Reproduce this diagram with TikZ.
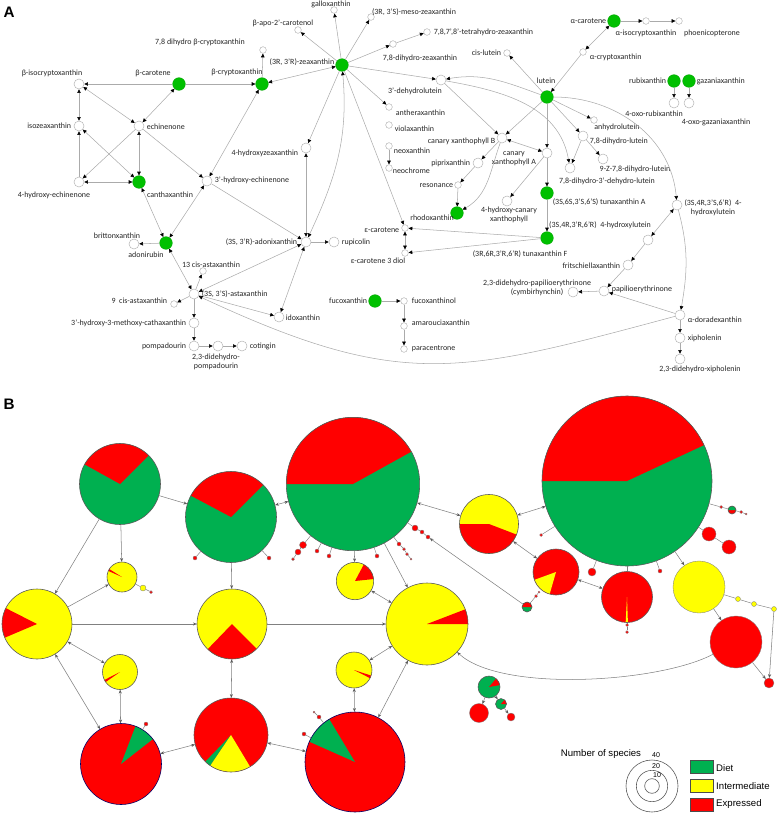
\documentclass[tikz,border=0pt]{standalone}
\usepackage{fontspec}
\setmainfont{Carlito}
\newfontfamily\legfont{Liberation Sans}
\usetikzlibrary{arrows.meta}
\definecolor{dietgreen}{HTML}{00C000}
\definecolor{pgreen}{HTML}{00B050}
\definecolor{pyellow}{HTML}{FFFF00}
\definecolor{pred}{HTML}{FF0000}
\definecolor{edgegray}{HTML}{ABABAB}
\definecolor{flowgray}{HTML}{808080}
\newcommand{\molfont}{\fontsize{6.8}{7.4}\selectfont}
\newcommand{\piechart}[6][gray!70!black]{%
  \pgfmathsetlengthmacro{\pierad}{#4*0.03cm}%
  \node[pie, fill=#5, minimum size=2*\pierad] (#2) at (#3) {};
  \foreach \s/\e/\col in {#6}{%
    \fill[fill=\col] (#2.center) -- ++(\s:\pierad) arc[start angle=\s, end angle=\e, radius=\pierad] -- cycle;}
  \draw[draw=#1, line width=0.5pt] (#2.center) circle[radius=\pierad];}

\begin{document}
\begin{tikzpicture}[x=0.03cm, y=-0.03cm,
  mol/.style={circle, draw=gray!60, fill=white, line width=0.4pt, inner sep=0pt, minimum size=0.3cm},
  molS/.style={mol, minimum size=0.2cm},
  diet/.style={circle, fill=dietgreen, draw=dietgreen!85!black, line width=0.3pt, inner sep=0pt, minimum size=0.38cm},
  lbl/.style={font=\molfont, inner sep=0.5pt, text=black!85, align=center},
  rx/.style={draw=edgegray, line width=0.45pt, -{Triangle[length=3.2pt,width=3pt,color=black]}},
  rxx/.style={rx, {Triangle[length=3.2pt,width=3pt,color=black]}-{Triangle[length=3.2pt,width=3pt,color=black]}},
  pie/.style={circle, inner sep=0pt},
  pdot/.style={circle, draw=flowgray, line width=0.3pt, fill=pred, inner sep=0pt},
  flow/.style={draw=flowgray, line width=0.45pt, -{Stealth[length=3.2pt,width=2.6pt,color=flowgray!70!black]}},
  flows/.style={flow, {Stealth[length=3.2pt,width=2.6pt,color=flowgray!70!black]}-{Stealth[length=3.2pt,width=2.6pt,color=flowgray!70!black]}},
  twig/.style={draw=flowgray, line width=0.4pt},
  legbox/.style={draw=black!70, line width=0.6pt, minimum width=0.69cm, minimum height=0.39cm, inner sep=0pt},
  leg/.style={font=\legfont\fontsize{8.2}{9}\selectfont, inner sep=0pt, anchor=west},
  panel/.style={font=\legfont\bfseries\fontsize{13}{14}\selectfont, inner sep=0pt}]
\useasboundingbox (0,0) rectangle (778,813);

\node[panel] (tagA) at (9,12) {A};
\node[panel] (tagB) at (9,404) {B};

\node[mol] (bisocry) at (79,84) {};
\node[diet] (bcar) at (179,84) {};
\node[diet] (bcry) at (262,84) {};
\node[mol] (isozea) at (79,126) {};
\node[mol] (echin) at (139,126) {};
\node[mol] (hech4) at (79,182) {};
\node[diet] (canth) at (139,182) {};
\node[mol] (hech3) at (207,181) {};
\node[diet] (adonir) at (166,243) {};
\node[mol] (britton) at (134,244) {};
\node[mol] (asta) at (194,294) {};
\node[molS] (cis13) at (203,271) {};
\node[molS] (cis9) at (174,304) {};
\node[mol] (methoxy) at (194,323) {};
\node[mol] (pompa) at (194,346) {};
\node[mol] (dpompa) at (218,346) {};
\node[mol] (coting) at (242,346) {};
\node[diet] (zea) at (342,65) {};
\node[molS] (gallo) at (334,10) {};
\node[molS] (meso) at (371,17) {};
\node[molS] (apo) at (298,30) {};
\node[molS] (dhbcry) at (263,50) {};
\node[molS] (thzea) at (427,32) {};
\node[molS] (dhzea) at (393,44) {};
\node[mol] (dhlut) at (441,80) {};
\node[molS] (cislut) at (507,53) {};
\node[molS] (anthera) at (389,107) {};
\node[molS] (viola) at (389,125) {};
\node[molS] (neoxa) at (389,146) {};
\node[molS] (neochr) at (389,168) {};
\node[mol] (hzea) at (306,148) {};
\node[mol] (adonix) at (306,242) {};
\node[mol] (rupi) at (334,242) {};
\node[mol] (idox) at (279,317) {};
\node[molS] (ecar) at (405,228) {};
\node[molS] (ecard) at (405,253) {};
\node[diet] (rhodo) at (457,213) {};
\node[molS] (reson) at (458,185) {};
\node[mol] (piprix) at (478,163) {};
\node[mol] (canB) at (502,138) {};
\node[mol] (canA) at (547,153) {};
\node[mol] (hcan) at (507,201) {};
\node[diet] (fucox) at (375,301) {};
\node[molS] (fucol) at (404,301) {};
\node[molS] (amaro) at (404,326) {};
\node[molS] (parac) at (404,349) {};
\node[diet] (acar) at (614,21) {};
\node[molS] (aiso) at (646,21) {};
\node[molS] (phoen) at (679,21) {};
\node[molS] (acry) at (583,52) {};
\node[diet] (lut) at (547,97) {};
\node[diet] (rubix) at (674,81) {};
\node[diet] (gaza) at (689,81) {};
\node[mol] (orubix) at (674,103) {};
\node[mol] (ogaza) at (689,103) {};
\node[molS] (anhyd) at (594,120) {};
\node[mol] (dhl) at (583,136) {};
\node[mol] (zdhl) at (603,159) {};
\node[mol] (dhdhl) at (570,168) {};
\node[diet] (tunaA) at (547,193) {};
\node[diet] (tunaF) at (547,238) {};
\node[mol] (hlutS) at (677,205) {};
\node[mol] (hlutR) at (648,240) {};
\node[mol] (fritsch) at (628,265) {};
\node[mol] (papil) at (604,291) {};
\node[mol] (cymbir) at (573,292) {};
\node[mol] (adora) at (680,315) {};
\node[mol] (xipho) at (680,338) {};
\node[mol] (dxipho) at (680,359) {};

\node[lbl] (bisocry-t) at (52,73) {β-isocryptoxanthin};
\node[lbl] (bcar-t) at (153,73) {β-carotene};
\node[lbl] (bcry-t) at (237,72) {β-cryptoxanthin};
\node[lbl, anchor=east] (isozea-t) at (72,126) {isozeaxanthin};
\node[lbl, anchor=west] (echin-t) at (146,127) {echinenone};
\node[lbl] (hech4-t) at (54,195) {4-hydroxy-echinenone};
\node[lbl] (canth-t) at (170,195) {canthaxanthin};
\node[lbl, anchor=west] (hech3-t) at (214,180) {3'-hydroxy-echinenone};
\node[lbl] (britton-t) at (117,236) {brittonxanthin};
\node[lbl] (adonir-t) at (146,255) {adonirubin};
\node[lbl] (cis13-t) at (211,265) {13 cis-astaxanthin};
\node[lbl, anchor=west] (asta-t) at (201,294) {(3S, 3'S)-astaxanthin};
\node[lbl, anchor=east] (cis9-t) at (168,301) {9\ \ cis-astaxanthin};
\node[lbl, anchor=east] (methoxy-t) at (187,323) {3'-hydroxy-3-methoxy-cathaxanthin};
\node[lbl, anchor=east] (pompa-t) at (187,346) {pompadourin};
\node[lbl] (dpompa-t) at (216,362) {2,3-didehydro-\\pompadourin};
\node[lbl, anchor=west] (coting-t) at (249,346) {cotingin};
\node[lbl, anchor=east] (zea-t) at (335,62) {(3R, 3'R)-zeaxanthin};
\node[lbl] (gallo-t) at (331,4) {galloxanthin};
\node[lbl] (meso-t) at (414,12) {(3R, 3'S)-meso-zeaxanthin};
\node[lbl] (apo-t) at (283,23) {β-apo-2'-carotenol};
\node[lbl] (dhbcry-t) at (200,42) {7,8 dihydro β-cryptoxanthin};
\node[lbl, anchor=west] (thzea-t) at (433,32) {7,8,7',8'-tetrahydro-zeaxanthin};
\node[lbl] (dhzea-t) at (420,58) {7,8-dihydro-zeaxanthin};
\node[lbl] (dhlut-t) at (415,91) {3'-dehydrolutein};
\node[lbl, anchor=east] (cislut-t) at (502,53) {cis-lutein};
\node[lbl, anchor=west] (anthera-t) at (395,113) {antheraxanthin};
\node[lbl, anchor=west] (viola-t) at (394,129) {violaxanthin};
\node[lbl, anchor=west] (neoxa-t) at (393,151) {neoxanthin};
\node[lbl, anchor=west] (neochr-t) at (392,171) {neochrome};
\node[lbl, anchor=east] (hzea-t) at (299,153) {4-hydroxyzeaxanthin};
\node[lbl, anchor=east] (adonix-t) at (298,242) {(3S, 3'R)-adonixanthin};
\node[lbl, anchor=west] (rupi-t) at (341,242) {rupicolin};
\node[lbl, anchor=west] (idox-t) at (285,318) {idoxanthin};
\node[lbl, anchor=east] (ecar-t) at (400,230) {ε-carotene};
\node[lbl] (ecard-t) at (378,261) {ε-carotene 3 diol};
\node[lbl] (rhodo-t) at (432,218) {rhodoxanthin};
\node[lbl, anchor=east] (reson-t) at (454,186) {resonance};
\node[lbl, anchor=east] (piprix-t) at (471,163) {piprixanthin};
\node[lbl, anchor=east] (canB-t) at (496,141) {canary xanthophyll B};
\node[lbl] (canA-t) at (514,159) {canary\\xanthophyll A};
\node[lbl] (hcan-t) at (509,215) {4-hydroxy-canary\\xanthophyll};
\node[lbl, anchor=east] (fucox-t) at (368,301) {fucoxanthin};
\node[lbl, anchor=west] (fucol-t) at (411,301) {fucoxanthinol};
\node[lbl, anchor=west] (amaro-t) at (411,323) {amarouciaxanthin};
\node[lbl, anchor=west] (parac-t) at (411,349) {paracentrone};
\node[lbl, anchor=east] (acar-t) at (607,21) {α-carotene};
\node[lbl] (aiso-t) at (646,33) {α-isocryptoxanthin};
\node[lbl] (phoen-t) at (712,33) {phoenicopterone};
\node[lbl, anchor=west] (acry-t) at (589,57) {α-cryptoxanthin};
\node[lbl] (lut-t) at (546,81) {lutein};
\node[lbl, anchor=east] (rubix-t) at (667,81) {rubixanthin};
\node[lbl, anchor=west] (gaza-t) at (696,81) {gazaniaxanthin};
\node[lbl] (orubix-t) at (654,114) {4-oxo-rubixanthin};
\node[lbl] (ogaza-t) at (716,122) {4-oxo-gazaniaxanthin};
\node[lbl] (anhyd-t) at (617,127) {anhydrolutein};
\node[lbl, anchor=west] (dhl-t) at (589,141) {7,8-dihydro-lutein};
\node[lbl] (zdhl-t) at (635,169) {9-Z-7,8-dihydro-lutein};
\node[lbl] (dhdhl-t) at (607,181) {7,8-dihydro-3'-dehydro-lutein};
\node[lbl, anchor=west] (tunaA-t) at (552,202) {(3S,6S,3'S,6'S) tunaxanthin A};
\node[lbl] (tunaF-t) at (520,254) {(3R,6R,3'R,6'R) tunaxanthin F};
\node[lbl] (hlutR-t) at (600,225) {(3S,4R,3'R,6'R)\ \ 4-hydroxylutein};
\node[lbl] (hlutS-t) at (713,208) {(3S,4R,3'S,6'R)\ \ 4-\\hydroxylutein};
\node[lbl, anchor=east] (fritsch-t) at (621,266) {fritschiellaxanthin};
\node[lbl, anchor=west] (papil-t) at (611,289) {papilioerythrinone};
\node[lbl] (cymbir-t) at (537,288) {2,3-didehydro-papilioerythrinone\\(cymbirhynchin)};
\node[lbl, anchor=west] (adora-t) at (687,320) {α-doradexanthin};
\node[lbl, anchor=west] (xipho-t) at (687,338) {xipholenin};
\node[lbl] (dxipho-t) at (700,369) {2,3-didehydro-xipholenin};

\foreach \a/\b in {bcar/bisocry, bcar/bcry, echin/hech3, echin/hech4, hech4/isozea, adonir/britton,
    asta/cis13, asta/cis9, asta/methoxy, methoxy/pompa, pompa/dpompa, dpompa/coting, asta/idox,
    hech3/adonix, bcry/dhbcry, zea/apo, zea/meso, zea/gallo, zea/dhzea, dhzea/thzea, zea/dhlut,
    zea/anthera, zea/hzea, zea/ecar, adonix/rupi, neoxa/neochr, fucox/fucol, fucol/amaro, amaro/parac,
    tunaF/ecar, tunaF/ecard, reson/rhodo, piprix/reson, canB/piprix, dhlut/canB, acar/aiso, aiso/phoen,
    acry/lut, lut/cislut, lut/canB, lut/canA, lut/anhyd, lut/dhl, dhl/zdhl, dhl/dhdhl, canA/tunaA,
    canA/hcan, tunaA/tunaF, rubix/orubix, gaza/ogaza, hlutR/fritsch, fritsch/papil, papil/cymbir,
    adora/papil, adora/xipho, xipho/dxipho}
  \draw[rx] (\a) -- (\b);
\foreach \a/\b in {bisocry/isozea, bisocry/echin, bcar/echin, isozea/canth, echin/canth, hech4/canth,
    bcry/hech3, canth/adonir, hech3/adonir, adonir/asta, adonix/asta, hzea/adonix, adonix/idox,
    zea/bcry, ecar/ecard, canB/canA, acar/acry, hlutS/hlutR}
  \draw[rxx] (\a) -- (\b);
\draw[rxx] (zea) to[out=-85, in=65] (adonix);
\draw[rx] (lut) to[out=160, in=10] (dhlut);
\draw[rx] (dhlut) to[out=-10, in=100] (dhdhl);
\draw[rx] (lut) to[out=0, in=95] (hlutS);
\draw[rx] (hlutS) to[out=-75, in=80] (adora);
\draw[rx] (canB) to[out=250, in=30] (rhodo);
\draw[rx] (adora) to[out=195, in=-25, looseness=1.2] (asta);

\piechart{p1}{120,484}{40.5}{pgreen}{45/151/pred}
\piechart{p2}{231,517}{45.5}{pgreen}{45/152/pred}
\piechart{p3}{122,577}{15}{pyellow}{148/156/pred}
\piechart{p4}{353,484}{66.7}{pgreen}{29/180/pred}
\piechart{p5}{489,524}{29.5}{pyellow}{180/339/pred}
\piechart{p6}{355,581}{18.7}{pyellow}{6/62/pred}
\piechart{p7}{627,481}{85}{pgreen}{25/180/pred}
\piechart{p8}{556,572}{23}{pred}{200/254/pyellow}
\piechart{p9}{627,597}{25.5}{pred}{267/272/pyellow}
\piechart{p11}{37,624}{35}{pyellow}{153/203/pred}
\piechart{p12}{232,624}{35}{pyellow}{226/315/pred}
\piechart{p13}{120,672}{17.5}{pyellow}{207/215/pred}
\piechart{p14}{354,670}{18}{pyellow}{333/342/pred}
\piechart[blue!40!black]{p15}{121,764}{40.5}{pred}{38/69/pgreen}
\piechart{p16}{231,735}{37}{pred}{226/236/pgreen,236/301/pyellow}
\piechart[blue!40!black]{p17}{355,762}{50}{pred}{121/156/pgreen}
\piechart{p18}{427,624}{41}{pyellow}{0/21/pred}
\piechart{p20}{489,687}{11}{pgreen}{10/50/pred}
\piechart{p22}{501,704}{5.5}{pgreen}{0/50/pred}
\piechart{s1}{527,607}{5}{pgreen}{0/180/pred}
\piechart{s2}{732,510}{4}{pred}{0/180/pgreen}
\node[pdot, fill=pyellow, minimum size=1.56cm] (p10) at (699,587) {};
\node[pdot, minimum size=1.56cm] (p19) at (736,642) {};
\node[pdot, minimum size=0.57cm] (p21) at (479,713) {};
\node[pdot, minimum size=0.24cm] (p23) at (511,717) {};
\node[pdot, minimum size=0.3cm] (p24) at (769,683) {};

\node[pdot, minimum size=0.12cm] (q1) at (195,558) {};
\node[pdot, minimum size=0.12cm] (q2) at (269,558) {};
\node[pdot, minimum size=0.21cm] (q3) at (303,545) {};
\node[pdot, minimum size=0.18cm] (q4) at (298,552) {};
\node[pdot, minimum size=0.09cm] (q5) at (293,559) {};
\node[pdot, minimum size=0.12cm] (q6) at (317,551) {};
\node[pdot, minimum size=0.12cm] (q7) at (329,556) {};
\node[pdot, minimum size=0.12cm] (q8) at (377,556) {};
\node[pdot, minimum size=0.12cm] (q9) at (399,544) {};
\node[pdot, minimum size=0.09cm] (q10) at (404,549) {};
\node[pdot, minimum size=0.09cm] (q11) at (407,554) {};
\node[pdot, minimum size=0.06cm] (q12) at (411,559) {};
\node[pdot, minimum size=0.18cm] (q13) at (415,528) {};
\node[pdot, minimum size=0.12cm] (q14) at (422,532) {};
\node[pdot, minimum size=0.12cm] (q15) at (428,537) {};
\node[pdot, minimum size=0.09cm] (q16) at (541,535) {};
\node[pdot, minimum size=0.24cm] (q17) at (592,572) {};
\node[pdot, minimum size=0.12cm] (q18) at (660,571) {};
\node[pdot, minimum size=0.42cm] (q19) at (709,534) {};
\node[pdot, minimum size=0.42cm] (q20) at (729,547) {};
\node[pdot, minimum size=0.09cm] (q21) at (721,507) {};
\node[pdot, minimum size=0.09cm] (q22) at (741,512) {};
\node[pdot, minimum size=0.06cm] (q23) at (746,514) {};
\node[pdot, fill=pyellow, minimum size=0.18cm] (q24) at (143,588) {};
\node[pdot, minimum size=0.09cm] (q25) at (151,592) {};
\node[pdot, minimum size=0.09cm] (q26) at (627,625) {};
\node[pdot, minimum size=0.09cm] (q27) at (627,632) {};
\node[pdot, minimum size=0.12cm] (q28) at (146,724) {};
\node[pdot, minimum size=0.12cm] (q29) at (319,717) {};
\node[pdot, minimum size=0.06cm] (q30) at (314,712) {};
\node[pdot, minimum size=0.12cm] (q31) at (304,734) {};
\node[pdot, minimum size=0.09cm] (q32) at (536,596) {};
\node[pdot, minimum size=0.06cm] (q33) at (539,592) {};
\node[pdot, fill=pyellow, minimum size=0.15cm] (y1) at (738,599) {};
\node[pdot, fill=pyellow, minimum size=0.15cm] (y2) at (754,604) {};
\node[pdot, fill=pyellow, minimum size=0.15cm] (y3) at (774,609) {};

\foreach \a/\b in {p1/p2, p1/p3, p1/p11, p2/p12, p4/p6, p4/p18, p7/p10, p10/p19, p11/p12, p12/p18,
    p11/p3, p19/p24, p20/p21, p20/p22, p22/p23, y3/p24, s1/q15}
  \draw[flow] (\a) -- (\b);
\foreach \a/\b in {p2/p4, p4/p5, p5/p7, p5/p8, p8/p9, p11/p13, p11/p15, p13/p15, p12/p16, p15/p16,
    p16/p17, p14/p17, p14/p18, p18/p17, p6/p18}
  \draw[flows] (\a) -- (\b);
\foreach \a/\b in {p2/q1, p2/q2, p4/q3, q3/q4, q4/q5, p4/q6, p4/q7, p4/q8, p4/q9, q9/q10, q10/q11,
    q11/q12, p4/q13, q13/q14, q14/q15, p7/q16, p7/q17, p7/q18, p7/q19, q19/q20, p7/q21, q21/s2,
    s2/q22, q22/q23, p3/q24, q24/q25, p9/q26, q26/q27, p15/q28, p17/q29, q29/q30, p17/q31,
    p10/y1, y1/y2, y2/y3, s1/q32, q32/q33, p7/p9}
  \draw[twig] (\a) -- (\b);
\draw[flow] (p19) to[out=208, in=-43, looseness=0.6] (p18);

\node[leg, anchor=center] (nspec) at (601,754) {Number of species};
\node[circle, draw=gray!70!black, line width=0.5pt, inner sep=0pt, minimum size=1.56cm] (s40) at (652,786) {};
\node[circle, draw=gray!70!black, line width=0.5pt, inner sep=0pt, minimum size=0.94cm] (s20) at (652,786) {};
\node[circle, draw=gray!70!black, line width=0.5pt, inner sep=0pt, minimum size=0.44cm] (s10) at (652,786) {};
\node[font=\legfont\fontsize{6}{7}\selectfont, inner sep=0pt] (n40) at (656,755) {40};
\node[font=\legfont\fontsize{6}{7}\selectfont, inner sep=0pt] (n20) at (656,766) {20};
\node[font=\legfont\fontsize{6}{7}\selectfont, inner sep=0pt] (n10) at (657,775) {10};
\node[legbox, fill=pgreen] (kdiet) at (702,767) {};
\node[legbox, fill=pyellow] (kinter) at (702,786) {};
\node[legbox, fill=pred] (kexpr) at (702,805) {};
\node[leg] (tdiet) at (716,768) {Diet};
\node[leg] (tinter) at (716,786) {Intermediate};
\node[leg] (texpr) at (716,804) {Expressed};
\end{tikzpicture}
\end{document}
